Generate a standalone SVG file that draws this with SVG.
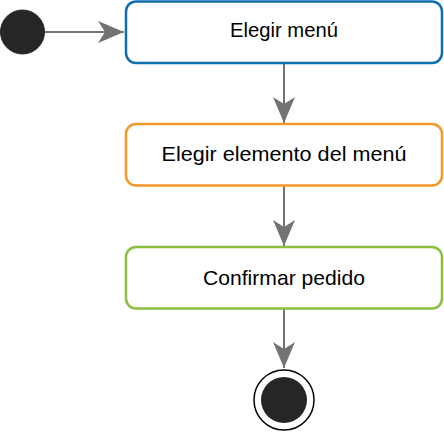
<svg xmlns="http://www.w3.org/2000/svg" width="444" height="434" viewBox="0 0 444 434">
<style>
.box{fill:#ffffff;stroke-width:2.5}
.lbl{font-family:"Liberation Sans",Arial,sans-serif;font-size:21px;fill:#000000;text-anchor:middle}
.edge{stroke:#737373;stroke-width:2;fill:none}
</style>
<defs>
<marker id="arr" viewBox="0 0 26 22" refX="26" refY="11" markerWidth="26" markerHeight="22" markerUnits="userSpaceOnUse" orient="auto">
<path d="M0,0 L26,11 L0,22 L7,11 Z" fill="#737373"/>
</marker>
</defs>
<rect width="444" height="434" fill="#ffffff"/>
<g id="connectors">
<line class="edge" x1="45" y1="32" x2="124" y2="32" marker-end="url(#arr)"/>
<line class="edge" x1="284" y1="63" x2="284" y2="123" marker-end="url(#arr)"/>
<line class="edge" x1="284" y1="186" x2="284" y2="246" marker-end="url(#arr)"/>
<line class="edge" x1="284" y1="309" x2="284" y2="368" marker-end="url(#arr)"/>
</g>
<g id="start">
<circle cx="22.5" cy="32" r="22" fill="#262626" stroke="#262626" stroke-width="1"/>
</g>
<g id="n1">
<rect class="box" x="126" y="1.5" width="316" height="61.5" rx="10" stroke="#0e6eb0"/>
<text class="lbl" x="284" y="36.5" textLength="108" lengthAdjust="spacingAndGlyphs">Elegir menú</text>
</g>
<g id="n2">
<rect class="box" x="126" y="124" width="316" height="61.5" rx="10" stroke="#f3982a"/>
<text class="lbl" x="284" y="160.5" textLength="245" lengthAdjust="spacingAndGlyphs">Elegir elemento del menú</text>
</g>
<g id="n3">
<rect class="box" x="126" y="247" width="316" height="61.5" rx="10" stroke="#8bbf3d"/>
<text class="lbl" x="284" y="285" textLength="162" lengthAdjust="spacingAndGlyphs">Confirmar pedido</text>
</g>
<g id="end">
<circle cx="284" cy="400" r="30" fill="#ffffff" stroke="#000000" stroke-width="1.5"/>
<circle cx="284" cy="400" r="23" fill="#262626"/>
</g>
</svg>
